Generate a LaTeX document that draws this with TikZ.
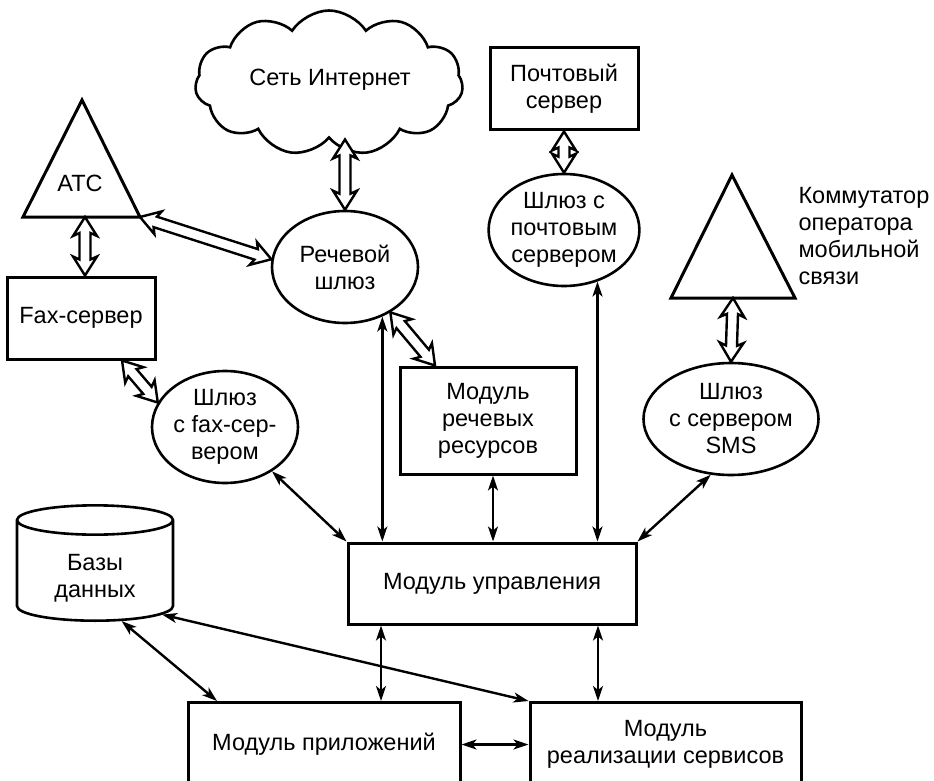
\documentclass[tikz,border=0pt]{standalone}
\usepackage{fontspec}
\setmainfont{Liberation Sans}
\usetikzlibrary{arrows.meta,calc,shapes.geometric,shapes.symbols}

% hollow double-headed block arrow between two points
\newcommand\blockarrow[2]{%
  \draw[hollow] (#1)
    -- ($(#1)!19pt!(#2)!12pt!90:(#2)$)
    -- ($(#1)!16pt!(#2)!5.5pt!90:(#2)$)
    -- ($(#2)!16pt!(#1)!5.5pt!-90:(#1)$)
    -- ($(#2)!19pt!(#1)!12pt!-90:(#1)$)
    -- (#2)
    -- ($(#2)!19pt!(#1)!12pt!90:(#1)$)
    -- ($(#2)!16pt!(#1)!5.5pt!90:(#1)$)
    -- ($(#1)!16pt!(#2)!5.5pt!-90:(#2)$)
    -- ($(#1)!19pt!(#2)!12pt!-90:(#2)$)
    -- cycle;}

\tikzset{
  box/.style={draw, line width=3pt, rectangle, inner sep=0pt, align=center},
  gate/.style={draw, line width=2.6pt, ellipse, inner sep=0pt,
    minimum width=146pt, minimum height=112pt, align=center},
  biarr/.style={line width=2.4pt, {Stealth[length=15pt,width=10pt,inset=4pt]}-{Stealth[length=15pt,width=10pt,inset=4pt]}},
  hollow/.style={draw, fill=white, line width=2.4pt, line join=miter},
  tri/.style={draw, line width=3pt, line join=miter},
}

\begin{document}
\begin{tikzpicture}[x=1pt, y=-1pt, font=\fontsize{23.5}{27}\selectfont]
\useasboundingbox (0,0) rectangle (934,781);

% internet cloud
\node[draw, cloud, cloud puffs=11, cloud puff arc=115, aspect=1.85,
  minimum width=268pt, minimum height=145pt, line width=2.6pt, inner sep=0pt]
  (net) at (329,83) {};
\node (nettxt) at (330,80) {Сеть Интернет};

% telephone exchange
\coordinate (atcA) at (82,100);
\coordinate (atcL) at (23,217);
\coordinate (atcR) at (140,217);
\draw[tri] (atcA) -- (atcL) -- (atcR) -- cycle;
\node (atctxt) at (80,183) {АТС};

% mobile operator switch
\coordinate (mobA) at (732,175);
\coordinate (mobL) at (671,298);
\coordinate (mobR) at (795,298);
\coordinate (mobB) at (733,298);
\draw[tri] (mobA) -- (mobL) -- (mobR) -- cycle;
\node[anchor=west, align=left] (mobtxt) at (795,236.5)
  {Коммутатор\\оператора\\мобильной\\связи};

% boxes
\node[box, minimum width=148pt, minimum height=82pt] (fax) at (81,318) {Fax-сервер};
\node[box, minimum width=148pt, minimum height=82pt] (mail) at (564,89) {Почтовый\\сервер};
\node[box, minimum width=176pt, minimum height=107pt] (speech) at (488,420.5) {Модуль\\речевых\\ресурсов};
\node[box, minimum width=288pt, minimum height=81pt] (ctrl) at (492,583.5) {Модуль управления};
\node[box, minimum width=272pt, minimum height=84pt, anchor=north] (app) at (324,701) {Модуль приложений};
\node[box, minimum width=271pt, minimum height=84pt, anchor=north] (svc) at (665.5,701) {Модуль\\реализации сервисов};

% gateways
\node[gate] (voice) at (345,267) {Речевой\\шлюз};
\node[gate] (mailgw) at (564,230) {Шлюз с\\почтовым\\сервером};
\node[gate] (faxgw) at (225,427) {Шлюз\\с fax-сер-\\вером};
\node[gate] (sms) at (731,419) {Шлюз\\с сервером\\SMS};

% database (a strut pushes the two lines below the middle of the body)
\node[draw, cylinder, shape border rotate=90, aspect=0.36, line width=2.6pt,
  minimum width=156pt, minimum height=110pt, inner sep=0pt]
  (db) at (95,571)
  {\begin{tabular}{@{}c@{}}\rule{0pt}{35pt}Базы\\данных\end{tabular}};

% block arrows
\blockarrow{voice.north}{voice.north |- net.south}
\blockarrow{85,0 |- fax.north}{85,0 |- atcL}
\blockarrow{atcR}{voice.174}
\blockarrow{122,0 |- fax.south}{faxgw.160}
\blockarrow{voice.-45}{435,0 |- speech.north}
\blockarrow{mail.south}{mailgw.north}
\blockarrow{mobB}{sms.north}

% thin links
\draw[biarr] (faxgw) -- (ctrl.north west);
\draw[biarr] (voice.-53) -- (voice.-53 |- ctrl.north);
\draw[biarr] (493,0 |- speech.south) -- (493,0 |- ctrl.north);
\draw[biarr] (mailgw.-57.6) -- (mailgw.-57.6 |- ctrl.north);
\draw[biarr] (sms.-110) -- (ctrl.north east);
\draw[biarr] (381,0 |- ctrl.south) -- (381,0 |- app.north);
\draw[biarr] (598,0 |- ctrl.south) -- (598,0 |- svc.north);
\draw[biarr] (app.east) -- (app.east -| svc.west);
\draw[biarr] (db.-62) -- (217,0 |- app.north);
\draw[biarr] (db.-33) -- (svc.north west);
\end{tikzpicture}
\end{document}
